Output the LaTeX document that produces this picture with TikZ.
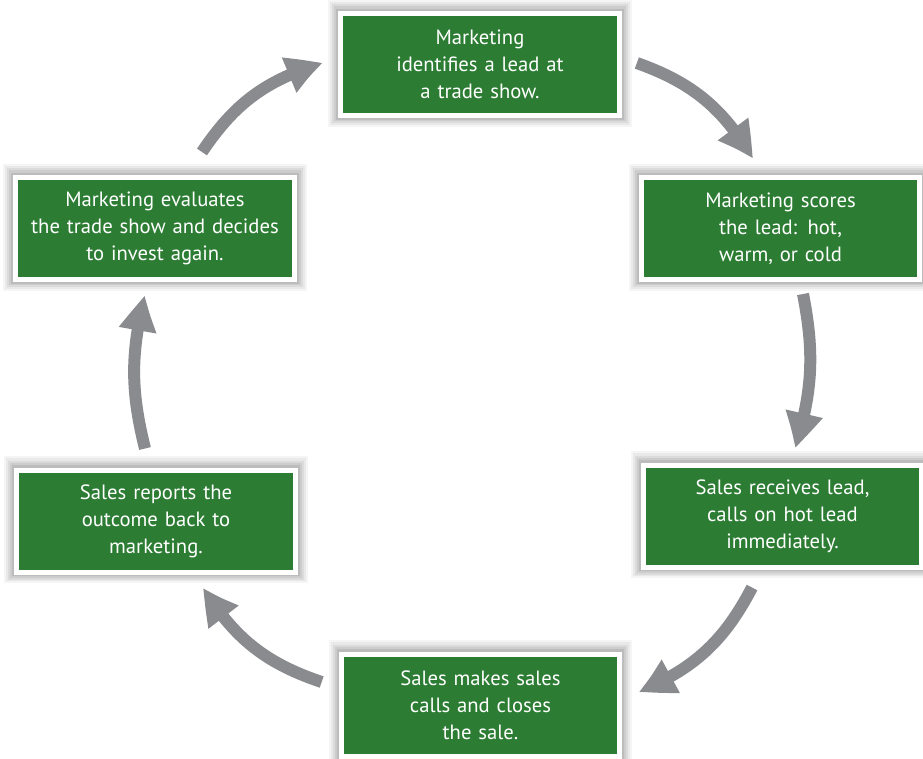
\documentclass[tikz,border=0pt]{standalone}
\usepackage{fontspec}
\setmainfont{PT Sans}
\usetikzlibrary{arrows.meta,calc,bending}

\definecolor{leadgreen}{RGB}{44,125,51}
\definecolor{arrowgray}{RGB}{138,139,143}

\tikzset{
    stagebox/.style={
        rectangle, fill=leadgreen, draw=white, line width=3.75pt,
        minimum width=209pt, minimum height=76.5pt, inner sep=0pt,
        text=white, align=center, text width=205pt,
        font=\fontsize{15.5}{20.25}\selectfont,
        preaction={draw=black, draw opacity=0.04, line width=18.75pt, transform canvas={yshift=0.8pt}},
        preaction={draw=black, draw opacity=0.05, line width=15.75pt, transform canvas={yshift=0.8pt}},
        preaction={draw=black, draw opacity=0.06, line width=12.75pt, transform canvas={yshift=0.6pt}},
        preaction={draw=black, draw opacity=0.07, line width=9.75pt, transform canvas={yshift=0.4pt}},
        preaction={draw=black, draw opacity=0.08, line width=6.75pt, transform canvas={yshift=0.2pt}}
    },
    cyclearrow/.style={
        draw=arrowgray, line width=9pt,
        -{Triangle[length=28pt, width=26pt, bend]}
    }
}

\begin{document}
\begin{tikzpicture}[x=0.75pt, y=-0.75pt]
    \useasboundingbox (0,0) rectangle (923,758);

    % Stages of the lead cycle
    \node[stagebox] (show)    at (480,64.5)  {Marketing\\identifies a lead at\\a trade show.};
    \node[stagebox] (score)   at (780.5,228.5) {Marketing scores\\the lead: hot,\\warm, or cold};
    \node[stagebox] (receive) at (782.5,516) {Sales receives lead,\\calls on hot lead\\immediately.};
    \node[stagebox] (close)   at (480.5,705) {Sales makes sales\\calls and closes\\the sale.};
    \node[stagebox] (report)  at (156,521)   {Sales reports the\\outcome back to\\marketing.};
    \node[stagebox] (invest)  at (155,228.5) {Marketing evaluates\\the trade show and decides\\to invest again.};

    % Arrows between stages
    \draw[cyclearrow] ($(show.east)+(15,-1.5)$) to[bend left=20] ($(score.north)+(-27.5,-16)$);
    \draw[cyclearrow] ($(score.south)+(22.5,12)$) to[bend left=14] ($(receive.north)+(12.5,-14)$);
    \draw[cyclearrow] ($(receive.south)+(-30.5,18)$) to[bend left=20] ($(close.east)+(16,-13)$);
    \draw[cyclearrow] ($(close.west)+(-17,-23)$) to[bend left=20] ($(report.south)+(47,13)$);
    \draw[cyclearrow] ($(report.north)+(-11,-19)$) to[bend left=14] ($(invest.south)+(-10,13)$);
    \draw[cyclearrow] ($(invest.north)+(47,-23)$) to[bend left=20] ($(show.west)+(-15,-1.5)$);
\end{tikzpicture}
\end{document}
